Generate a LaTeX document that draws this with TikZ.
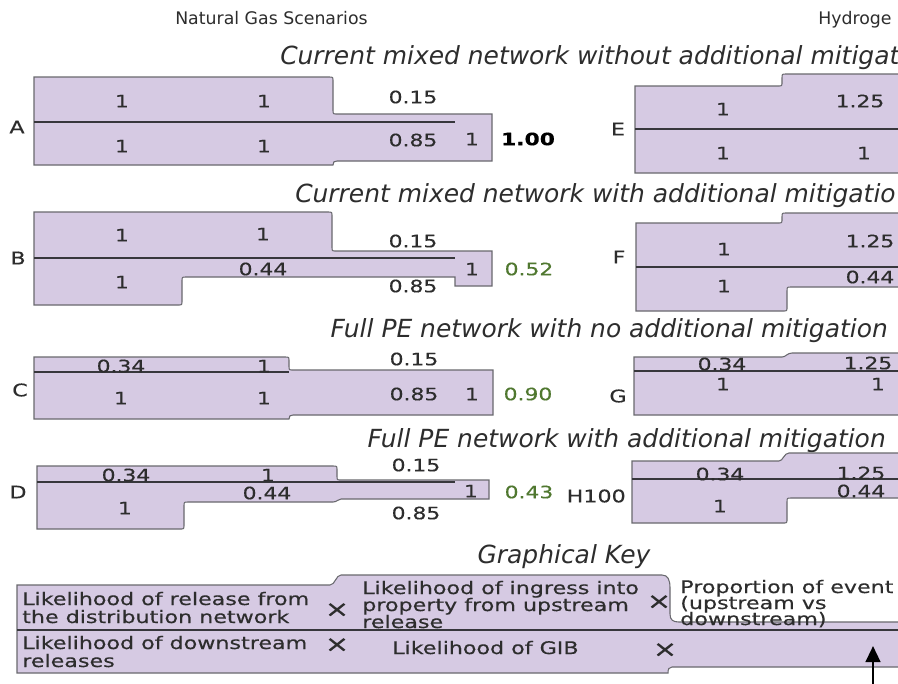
\documentclass[tikz,border=0pt]{standalone}
\usepackage{fontspec}
\usetikzlibrary{arrows.meta}
\setmainfont{DejaVu Sans}
\newfontfamily\wideface[FakeStretch=1.28,FakeBold=0.4]{DejaVu Sans}
\definecolor{lilac}{RGB}{214,202,227}
\definecolor{edgegray}{RGB}{105,105,110}
\definecolor{divgray}{RGB}{55,55,60}
\definecolor{ink}{RGB}{45,45,45}
\definecolor{resgreen}{RGB}{80,120,48}
\tikzset{
  tank/.style={fill=lilac, draw=edgegray, line width=0.8pt},
  divider/.style={draw=divgray, line width=1.2pt},
  num/.style={font=\wideface\fontsize{12.8}{14}\selectfont, text=ink, inner sep=0pt},
  res/.style={num, text=resgreen},
  total/.style={num, text=black, font=\wideface\bfseries\fontsize{12.8}{14}\selectfont},
  rowlabel/.style={font=\wideface\fontsize{13}{15}\selectfont, text=ink, inner sep=0pt},
  heading/.style={font=\fontsize{13}{15}\selectfont, text=ink, inner sep=0pt, anchor=base west},
  scen/.style={font=\itshape\fontsize{18.7}{22}\selectfont, text=ink, inner sep=0pt, anchor=base},
  keyline/.style={font=\wideface\fontsize{13}{15}\selectfont, text=ink, inner sep=0pt, anchor=base west},
  times/.style={font=\wideface\fontsize{17}{18}\selectfont, text=ink, inner sep=0pt},
  arrowline/.style={draw=black, line width=1.7pt, -{Triangle[length=12pt,width=11pt]}}
}
\begin{document}
\begin{tikzpicture}[x=0.75pt,y=-0.75pt]
\useasboundingbox (0,0) rectangle (898,683);
\fill[white] (0,0) rectangle (898,683);
\clip (0,0) rectangle (898,683);

% ---------- headings ----------
\node[heading] (nghead) at (175,24) {Natural Gas Scenarios};
\node[heading] (h2head) at (818,24) {Hydroge};

% ---------- scenario titles ----------
\node[scen, anchor=base west] (titleA) at (280,64) {Current mixed network without additional mitigat};
\node[scen, anchor=base west] (titleB) at (295,202) {Current mixed network with additional mitigatio};
\node[scen, anchor=base east] (titleC) at (888,337) {Full PE network with no additional mitigation};
\node[scen, anchor=base east] (titleD) at (886,447) {Full PE network with additional mitigation};
\node[scen] (titleKey) at (564,563) {Graphical Key};

% ---------- scenario A ----------
\path[tank] (34,77) -- (329,77) .. controls (333,77) .. (333,81) -- (333,110)
  .. controls (333,114) .. (337,114) -- (492,114) -- (492,161) -- (337,161)
  .. controls (334,161) and (333,162) .. (333,165) -- (34,165) -- cycle;
\draw[divider] (34,122) -- (455,122);
\node[rowlabel] (labA) at (17,127) {A};
\node[num] (a1) at (122,101) {1};
\node[num] (a2) at (264,101) {1};
\node[num] (a3) at (413,97) {0.15};
\node[num] (a4) at (122,146) {1};
\node[num] (a5) at (264,146) {1};
\node[num] (a6) at (413,140) {0.85};
\node[num] (a7) at (472,139) {1};
\node[total] (a8) at (528,139) {1.00};

% ---------- scenario B ----------
\path[tank] (34,212) -- (328,212) .. controls (332,212) .. (332,216) -- (332,247)
  .. controls (332,251) .. (336,251) -- (492,251) -- (492,286) -- (455,286)
  -- (455,277) -- (186,277) .. controls (182,277) .. (182,281) -- (182,301)
  .. controls (182,305) .. (178,305) -- (34,305) -- cycle;
\draw[divider] (34,258) -- (455,258);
\node[rowlabel] (labB) at (18,258) {B};
\node[num] (b1) at (122,235) {1};
\node[num] (b2) at (263,234) {1};
\node[num] (b3) at (413,241) {0.15};
\node[num] (b4) at (122,282) {1};
\node[num] (b5) at (263,269) {0.44};
\node[num] (b6) at (413,286) {0.85};
\node[num] (b7) at (472,269) {1};
\node[res] (b8) at (529,269) {0.52};

% ---------- scenario C ----------
\path[tank] (34,357) -- (285,357) .. controls (289,357) .. (289,361) -- (289,366)
  .. controls (289,370) .. (293,370) -- (493,370) -- (493,415) -- (293,415)
  .. controls (290,415) and (289,416) .. (289,419) -- (34,419) -- cycle;
\draw[divider] (34,372) -- (289,372);
\node[rowlabel] (labC) at (20,390) {C};
\node[num] (c1) at (121,366) {0.34};
\node[num] (c2) at (264,366) {1};
\node[num] (c3) at (414,359) {0.15};
\node[num] (c4) at (121,398) {1};
\node[num] (c5) at (264,398) {1};
\node[num] (c6) at (414,394) {0.85};
\node[num] (c7) at (472,394) {1};
\node[res] (c8) at (528,394) {0.90};

% ---------- scenario D ----------
\path[tank] (37,466) -- (333,466) .. controls (337,466) .. (337,470) -- (337,476)
  .. controls (337,480) .. (341,480) -- (489,480) -- (489,499) -- (341,499)
  .. controls (338,499) and (337,502) .. (333,502) -- (188,502)
  .. controls (184,502) .. (184,506) -- (184,525) .. controls (184,529) .. (180,529)
  -- (37,529) -- cycle;
\draw[divider] (37,482) -- (455,482);
\node[rowlabel] (labD) at (18,492) {D};
\node[num] (d1) at (126,475) {0.34};
\node[num] (d2) at (268,475) {1};
\node[num] (d3) at (416,465) {0.15};
\node[num] (d4) at (125,508) {1};
\node[num] (d5) at (267,493) {0.44};
\node[num] (d6) at (416,513) {0.85};
\node[num] (d7) at (471,491) {1};
\node[res] (d8) at (529,492) {0.43};

% ---------- scenario E ----------
\path[tank] (635,86) -- (778,86) .. controls (782,86) .. (782,82) -- (782,78)
  .. controls (782,74) .. (786,74) -- (910,74) -- (910,173) -- (635,173) -- cycle;
\draw[divider] (635,129) -- (910,129);
\node[rowlabel] (labE) at (618,129) {E};
\node[num] (e1) at (723,109) {1};
\node[num] (e2) at (860,101) {1.25};
\node[num] (e3) at (723,153) {1};
\node[num] (e4) at (864,153) {1};

% ---------- scenario F ----------
\path[tank] (636,223) -- (778,223) .. controls (782,223) .. (782,219) -- (782,217)
  .. controls (782,213) .. (786,213) -- (910,213) -- (910,287) -- (791,287)
  .. controls (787,287) .. (787,291) -- (787,307) .. controls (787,311) .. (783,311)
  -- (636,311) -- cycle;
\draw[divider] (636,267) -- (910,267);
\node[rowlabel] (labF) at (619,257) {F};
\node[num] (f1) at (724,249) {1};
\node[num] (f2) at (870,241) {1.25};
\node[num] (f3) at (724,286) {1};
\node[num] (f4) at (870,277) {0.44};

% ---------- scenario G ----------
\path[tank] (634,357) -- (782,357) .. controls (786,357) and (787,353) .. (792,353)
  -- (910,353) -- (910,415) -- (634,415) -- cycle;
\draw[divider] (634,371) -- (910,371);
\node[rowlabel] (labG) at (618,396) {G};
\node[num] (g1) at (722,364) {0.34};
\node[num] (g2) at (868,363) {1.25};
\node[num] (g3) at (723,384) {1};
\node[num] (g4) at (878,384) {1};

% ---------- scenario H100 ----------
\path[tank] (632,461) -- (779,461) .. controls (783,461) and (784,453) .. (789,453)
  -- (910,453) -- (910,498) -- (791,498) .. controls (787,498) .. (787,502)
  -- (787,519) .. controls (787,523) .. (783,523) -- (632,523) -- cycle;
\draw[divider] (632,479) -- (910,479);
\node[rowlabel, anchor=east] (labH) at (626,496) {H100};
\node[num] (h1) at (720,474) {0.34};
\node[num] (h2) at (861,473) {1.25};
\node[num] (h3) at (861,491) {0.44};
\node[num] (h4) at (720,506) {1};

% ---------- graphical key ----------
\path[tank] (17,585) -- (330,585) .. controls (335,585) and (336,575) .. (341,575)
  -- (662,575) .. controls (668,575) and (670,580) .. (670,588) -- (670,614)
  .. controls (670,620) and (673,622) .. (679,622) -- (910,622) -- (910,667)
  -- (672,667) .. controls (669,667) and (668,669) .. (668,673) -- (17,673) -- cycle;
\draw[divider] (17,630) -- (910,630);

\node[keyline] (k1a) at (22,605) {Likelihood of release from};
\node[keyline] (k1b) at (22,623) {the distribution network};
\node[times] (x1) at (337,610) {×};
\node[keyline] (k2a) at (362,594) {Likelihood of ingress into};
\node[keyline] (k2b) at (362,611) {property from upstream};
\node[keyline] (k2c) at (362,628) {release};
\node[times] (x2) at (659,602) {×};
\node[keyline] (k3a) at (680,593) {Proportion of event};
\node[keyline] (k3b) at (680,609) {(upstream vs};
\node[keyline] (k3c) at (680,625) {downstream)};

\node[keyline] (k4a) at (22,649) {Likelihood of downstream};
\node[keyline] (k4b) at (22,667) {releases};
\node[times] (x3) at (337,645) {×};
\node[keyline] (k5) at (392,654) {Likelihood of GIB};
\node[times] (x4) at (665,650) {×};

\coordinate (arrowfoot) at (873,692);
\coordinate (arrowtip) at (873,646);
\draw[arrowline] (arrowfoot) -- (arrowtip);
\end{tikzpicture}
\end{document}
